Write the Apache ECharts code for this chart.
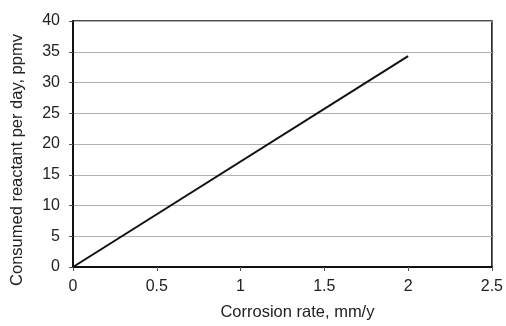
<!DOCTYPE html>
<html><head><meta charset="utf-8">
<script src="https://cdn.jsdelivr.net/npm/echarts@6/dist/echarts.min.js"></script>
<style>html,body{margin:0;padding:0;background:#fff}#c{width:506px;height:326px}</style>
</head><body><div id="c"></div>
<script>
const corrosionRate = [0, 2];
const consumedReactant = [0, 34.3];
const xTitle = 'Corrosion rate, mm/y';
const yTitle = 'Consumed reactant per day, ppmv';

const chart = echarts.init(document.getElementById('c'), null, {renderer: 'canvas'});
const font = 'Liberation Sans, Arial, sans-serif';
chart.setOption({
  animation: false,
  grid: {left: 73, right: 12, top: 21, bottom: 55, show: true, borderColor: '#111', borderWidth: 1.5, backgroundColor: 'transparent'},
  xAxis: {
    type: 'value', min: 0, max: 2.5, interval: 0.5,
    name: xTitle, nameLocation: 'middle', nameGap: 37,
    nameTextStyle: {fontFamily: font, fontSize: 16.5, color: '#222', padding: [0, 0, 0, 30]},
    axisLine: {show: true, lineStyle: {color: '#111', width: 2}},
    axisTick: {show: true, length: 4, lineStyle: {color: '#555'}},
    axisLabel: {fontFamily: font, fontSize: 16, color: '#222', margin: 12},
    splitLine: {show: false}
  },
  yAxis: {
    type: 'value', min: 0, max: 40, interval: 5,
    name: yTitle, nameLocation: 'middle', nameGap: 47,
    nameTextStyle: {fontFamily: font, fontSize: 16.5, color: '#222', padding: [0, 32, 0, 0]},
    axisLine: {show: true, lineStyle: {color: '#111', width: 2}},
    axisTick: {show: true, length: 4, lineStyle: {color: '#555'}},
    axisLabel: {fontFamily: font, fontSize: 16, color: '#222', margin: 13},
    splitLine: {show: true, lineStyle: {color: '#b0b0b0', width: 1}}
  },
  series: [{
    type: 'line',
    data: corrosionRate.map((x, i) => [x, consumedReactant[i]]),
    showSymbol: false,
    lineStyle: {color: '#111', width: 2}
  }]
});
</script></body></html>
